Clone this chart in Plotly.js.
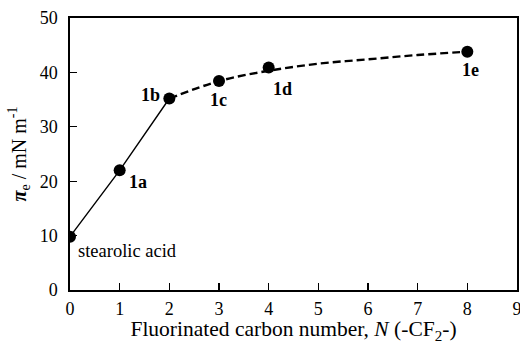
<!DOCTYPE html>
<html>
<head>
<meta charset="utf-8">
<script src="https://cdn.plot.ly/plotly-3.0.1.min.js"></script>
<style>html,body{margin:0;padding:0;background:#fff;}#chart{width:520px;height:344px;}</style>
</head>
<body>
<div id="chart"></div>
<script>
// Measured points
const carbonN = [0, 1, 2, 3, 4, 8];
const pressure = [9.8, 22.0, 35.2, 38.4, 40.9, 43.8];
const pointLabels = ["stearolic acid", "1a", "1b", "1c", "1d", "1e"];
// Solid segment (stearolic acid -> 1b)
const solidX = [0, 1, 2];
const solidY = [9.8, 22.0, 35.2];
// Dashed fitted curve
const dashX = [2, 3, 4, 5, 6, 7, 8];
const dashY = [35.2, 38.4, 40.3, 41.6, 42.4, 43.2, 43.8];
const xTicks = [0, 1, 2, 3, 4, 5, 6, 7, 8, 9];
const yTicks = [0, 10, 20, 30, 40, 50];

const font = "'Liberation Serif', 'Times New Roman', serif";

const traces = [
  {x: solidX, y: solidY, mode: "lines", line: {color: "#000", width: 1.4}, hoverinfo: "skip"},
  {x: dashX, y: dashY, mode: "lines", line: {color: "#000", width: 2.4, dash: "8px,4px", shape: "spline"}, hoverinfo: "skip"},
  {x: carbonN, y: pressure, mode: "markers", marker: {color: "#000", size: 12}}
];

const offsets = [
  {xa: "left", dx: 6, dy: -14, bold: false, size: 18.5},
  {xa: "left", dx: 7, dy: -12, bold: true, size: 18},
  {xa: "right", dx: -7, dy: 4, bold: true, size: 18},
  {xa: "center", dx: -1, dy: -19, bold: true, size: 18},
  {xa: "center", dx: 14, dy: -21, bold: true, size: 18},
  {xa: "center", dx: 3, dy: -18, bold: true, size: 18}
];

const annotations = pointLabels.map((t, i) => ({
  x: carbonN[i], y: pressure[i], xref: "x", yref: "y",
  text: offsets[i].bold ? "<b>" + t + "</b>" : t,
  showarrow: false, xanchor: offsets[i].xa, yanchor: "middle",
  xshift: offsets[i].dx, yshift: offsets[i].dy,
  font: {family: font, size: offsets[i].size, color: "#000"}
}));

const layout = {
  width: 520, height: 344,
  margin: {l: 70, r: 3, t: 18, b: 54},
  paper_bgcolor: "#fff", plot_bgcolor: "#fff",
  showlegend: false,
  font: {family: font, color: "#000", size: 18},
  xaxis: {
    range: [0, 9], tickvals: xTicks, ticktext: xTicks.map(String),
    ticks: "inside", ticklen: 7, tickwidth: 1.3, tickcolor: "#000",
    ticklabeloverflow: "allow", ticklabelstandoff: 2,
    showline: true, linecolor: "#000", linewidth: 1.6, mirror: true,
    showgrid: false, zeroline: false,
    tickfont: {family: font, size: 18},
    title: {text: "Fluorinated carbon number, <i>N</i> (-CF<sub>2</sub>-)", font: {family: font, size: 21.5}, standoff: 4}
  },
  yaxis: {
    range: [0, 50], tickvals: yTicks, ticktext: yTicks.map(String),
    ticks: "inside", ticklen: 7, tickwidth: 1.3, tickcolor: "#000",
    ticklabelstandoff: 7,
    showline: true, linecolor: "#000", linewidth: 1.6, mirror: true,
    showgrid: false, zeroline: false,
    tickfont: {family: font, size: 18},
    title: {text: "<b><i>π</i></b><sub>e</sub> / mN m<sup>-1</sup>", font: {family: font, size: 20}, standoff: 8}
  },
  annotations: annotations
};

Plotly.newPlot("chart", traces, layout, {staticPlot: true, displayModeBar: false});
</script>
</body>
</html>
